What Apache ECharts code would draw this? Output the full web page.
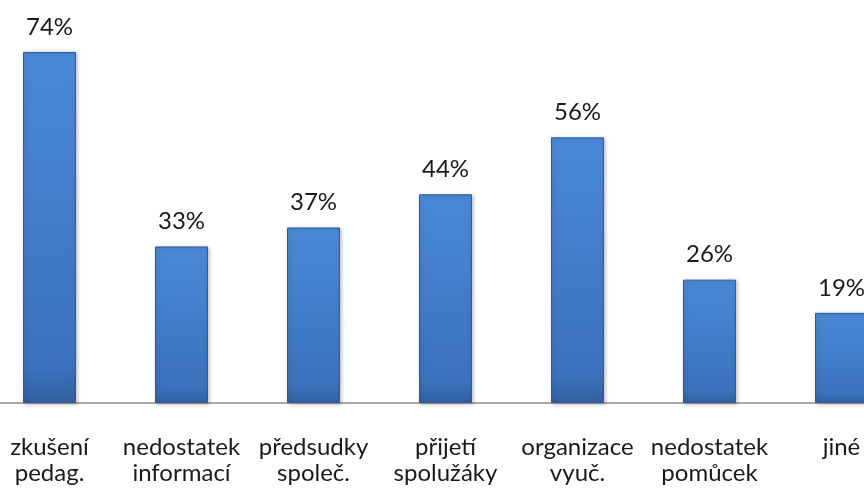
<!DOCTYPE html>
<html><head><meta charset="utf-8">
<script src="https://cdn.jsdelivr.net/npm/echarts@6/dist/echarts.min.js"></script>
<style>html,body{margin:0;padding:0;background:#fff}#c{width:864px;height:489px}</style>
</head><body><div id="c"></div>
<script>
const categories = ['zkušení\npedag.', 'nedostatek\ninformací', 'předsudky\nspoleč.', 'přijetí\nspolužáky', 'organizace\nvyuč.', 'nedostatek\npomůcek', 'jiné'];
const values = [74, 33, 37, 44, 56, 26, 19];
const chart = echarts.init(document.getElementById('c'), null, {renderer: 'canvas'});
chart.setOption({
  animation: false,
  grid: {left: -16.5, width: 924, top: 23.5, bottom: 86, containLabel: false, outerBoundsMode: 'none'},
  xAxis: {
    type: 'category', data: categories,
    axisLine: {lineStyle: {color: '#8c8c8c', width: 1.5}},
    axisTick: {show: false},
    axisLabel: {interval: 0, margin: 31, color: '#1a1a1a', fontFamily: 'Lato', fontSize: 24, lineHeight: 26}
  },
  yAxis: {type: 'value', min: 0, max: 80, show: false, splitLine: {show: false}},
  series: [{
    type: 'bar', data: values, barWidth: 53,
    itemStyle: {
      color: new echarts.graphic.LinearGradient(0, 0, 0, 1, [
        {offset: 0, color: '#4a89d8'}, {offset: 0.9, color: '#3b72bd'}, {offset: 1, color: '#30609f'}]),
      borderColor: '#2d5a98', borderWidth: 1,
      shadowColor: 'rgba(0,0,0,0.25)', shadowBlur: 4, shadowOffsetX: 1, shadowOffsetY: 1
    },
    label: {show: true, position: 'top', distance: 13, formatter: '{c}%', color: '#1a1a1a', fontFamily: 'Lato', fontSize: 24}
  }]
});
</script></body></html>
